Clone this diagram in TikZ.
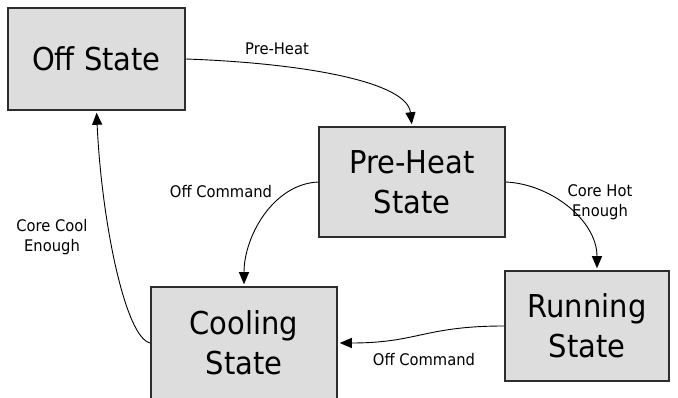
\documentclass[tikz,border=0pt]{standalone}
\usepackage{fontspec}
\setmainfont{DejaVu Sans}[FakeStretch=0.92]
\usetikzlibrary{arrows.meta}
\definecolor{boxgray}{RGB}{221,221,221}
\definecolor{edgegray}{RGB}{45,45,45}
\tikzstyle{state} = [draw=edgegray, line width=1.5pt, fill=boxgray, align=center, inner sep=0pt, font=\fontsize{31.5}{40}\selectfont]
\tikzstyle{arrow} = [line width=0.9pt, -{Triangle[length=12pt,width=10pt]}, shorten >=2pt]
\tikzstyle{lbl} = [align=center, font=\fontsize{16}{20}\selectfont]

\begin{document}
\begin{tikzpicture}[x=1pt,y=-1pt]
\useasboundingbox (0,0) rectangle (678,398);

% states
\node[state, minimum width=177pt, minimum height=102pt] (off) at (96.5,59) {Off State};
\node[state, minimum width=186pt, minimum height=110pt] (preheat) at (412,182) {Pre-Heat\\State};
\node[state, minimum width=164pt, minimum height=110pt] (running) at (587,326) {Running\\State};
\node[state, minimum width=186pt, minimum height=112pt] (cooling) at (244,343) {Cooling\\State};

% transitions
\draw[arrow] (off.east) .. controls +(115,4) and +(-5,-45) .. (preheat.north);
\draw[arrow] (preheat.west) .. controls +(-45,2) and +(0,-50) .. (cooling.north);
\draw[arrow] (preheat.east) .. controls +(45,2) and +(0,-50) .. ([xshift=10pt]running.north);
\draw[arrow] (running.west) .. controls +(-80,0) and +(80,0) .. (cooling.east);
\draw[arrow] (cooling.west) .. controls +(-25,-5) and +(5,110) .. (off.south);

% labels
\node[lbl] (lpreheat) at (277,49) {Pre-Heat};
\node[lbl] (loffa) at (221,192) {Off Command};
\node[lbl] (lhot) at (600,202) {Core Hot\\Enough};
\node[lbl] (loffb) at (424,360) {Off Command};
\node[lbl] (lcool) at (52,237) {Core Cool\\Enough};
\end{tikzpicture}
\end{document}
